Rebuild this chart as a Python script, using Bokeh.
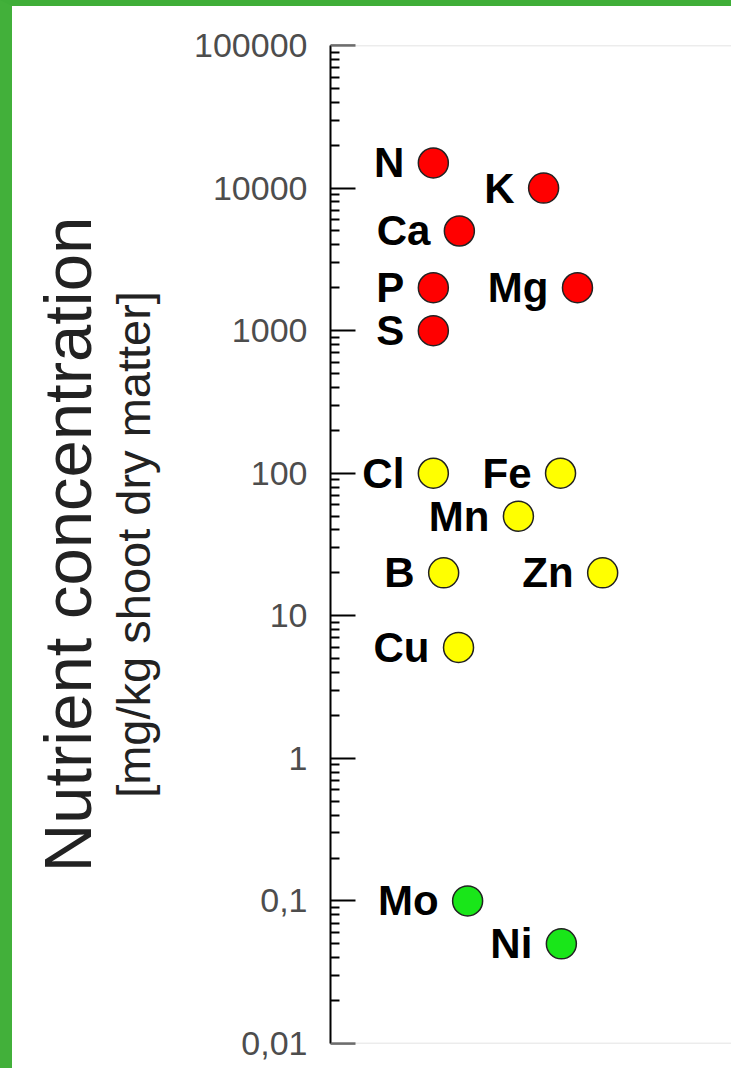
from bokeh.plotting import figure
from bokeh.models import ColumnDataSource, FixedTicker, Range1d, Span, Title
from bokeh.core.properties import value
from bokeh.embed import file_html
from bokeh.resources import INLINE

# ---- data ----
elements = ["N", "K", "Ca", "P", "Mg", "S", "Cl", "Fe", "Mn", "B", "Zn", "Cu", "Mo", "Ni"]
concentration = [15000, 10000, 5000, 2000, 2000, 1000, 100, 100, 50, 20, 20, 6, 0.1, 0.05]
column_pos = [24.9, 51.6, 31.2, 24.9, 59.8, 24.9, 24.9, 55.7, 45.5, 27.4, 65.9, 31.0, 33.2, 55.9]
group = ["macro"] * 6 + ["micro"] * 6 + ["beneficial"] * 2

tick_values = [0.01, 0.1, 1, 10, 100, 1000, 10000, 100000]
tick_labels = ["0,01", "0,1", "1", "10", "100", "1000", "10000", "100000"]

group_colors = {"macro": "#ff0000", "micro": "#ffff00", "beneficial": "#19e619"}

src = ColumnDataSource(dict(
    x=column_pos,
    y=concentration,
    name=elements,
    color=[group_colors[g] for g in group],
))

minor = [m * t for t in tick_values[:-1] for m in range(2, 10)]

p = figure(width=731, height=1068, y_axis_type="log",
           x_range=Range1d(0, 100), y_range=Range1d(0.01, 100000),
           x_axis_location=None,
           output_backend="svg", toolbar_location=None,
           min_border_left=318, min_border_right=0,
           min_border_top=39, min_border_bottom=31)
p.styles = {"border-left": "12px solid #42b03a", "border-top": "6px solid #3fae38"}
p.grid.visible = False
p.outline_line_color = None
p.background_fill_color = "white"
p.border_fill_color = "white"

ax = p.yaxis[0]
ax.ticker = FixedTicker(ticks=tick_values, minor_ticks=minor)
ax.major_label_overrides = {v: l for v, l in zip(tick_values, tick_labels)}
ax.axis_line_color = "black"
ax.axis_line_width = 2
ax.major_tick_in = 25
ax.major_tick_out = 0
ax.major_tick_line_width = 2
ax.minor_tick_in = 9
ax.minor_tick_out = 0
ax.minor_tick_line_width = 2
ax.major_label_standoff = 23
ax.major_label_text_font = "Liberation Sans"
ax.major_label_text_font_size = "34px"
ax.major_label_text_color = "#4d4d4d"
ax.axis_label = "[mg/kg shoot dry matter]"
ax.axis_label_text_font = "Liberation Sans"
ax.axis_label_text_font_size = "47px"
ax.axis_label_text_font_style = "normal"
ax.axis_label_text_color = "#222222"
ax.axis_label_standoff = 31

p.add_layout(Title(text="Nutrient concentration", align="center",
                   text_font="Liberation Sans", text_font_size="67px",
                   text_font_style="normal", text_color="#222222",
                   standoff=0), "left")

for loc in (tick_values[0], tick_values[-1]):
    p.add_layout(Span(location=loc, dimension="width",
                      line_color="#d9d9d9", line_width=1.5))

p.scatter(x="x", y="y", source=src, size=30, fill_color="color",
          line_color="#222222", line_width=1.5)
p.text(x="x", y="y", text="name", source=src, x_offset=-29,
       text_align="right", text_baseline="middle",
       text_font=value("Liberation Sans"), text_font_style="bold",
       text_font_size="42px", text_color="black")

open("out.html", "w").write(file_html(p, INLINE))
